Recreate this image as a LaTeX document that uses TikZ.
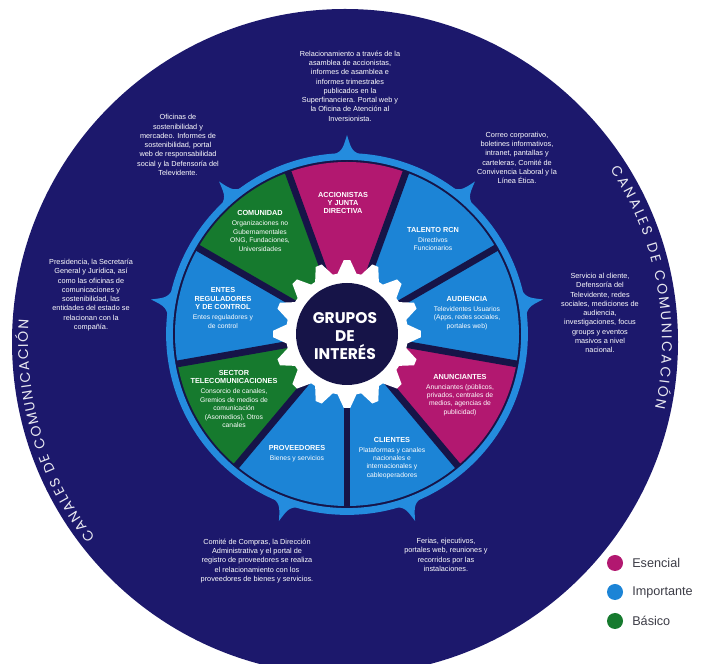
\documentclass[tikz,border=0pt]{standalone}
\usepackage{fontspec}
\setmainfont{Liberation Sans}
\newfontfamily\geofont{Poppins}
\usetikzlibrary{decorations.text}

\definecolor{fondo}{RGB}{28,24,108}
\definecolor{oscuro}{RGB}{22,20,72}
\definecolor{esencial}{RGB}{178,24,112}
\definecolor{importante}{RGB}{28,132,214}
\definecolor{basico}{RGB}{22,122,46}
\definecolor{aro}{RGB}{36,140,222}
\definecolor{gris}{RGB}{60,60,70}

\tikzset{
  canal/.style={text=white, align=center, inner sep=0pt, font=\fontsize{5.2}{6.6}\selectfont},
  grupo/.style={text=white, align=center, inner sep=0pt, font=\fontsize{4.8}{6}\selectfont},
  divisor/.style={draw=oscuro, line width=0.17cm},
  punto/.style={circle, minimum size=0.4cm, inner sep=0pt},
  leyenda/.style={anchor=west, text=gris, inner sep=0pt, font=\fontsize{9}{9}\selectfont},
  rotulo/.style={decorate, decoration={text along path, text align={fit to path},
    text={|\geofont\fontsize{10}{10}\selectfont\color{white!90!fondo}|CANALES DE COMUNICACIÓN}}},
}
\newcommand{\titulo}[1]{{\fontsize{5.2}{6}\selectfont\bfseries #1}}

\begin{document}
\begin{tikzpicture}[x=0.025cm, y=0.025cm]
\useasboundingbox (0,0) rectangle (704,664);
\clip (0,0) rectangle (704,664);

% circulo exterior
\fill[fondo] (345,322) circle[radius=333];
\path[rotulo, shift={(345,322)}] (33:317) arc[start angle=33, end angle=-12, radius=317];
\path[rotulo, shift={(345,322)}] (218:317) arc[start angle=218, end angle=176, radius=317];

% rueda
\begin{scope}[shift={(347,330)}]
  \fill[oscuro] (0,0) circle[radius=175];
  \foreach \a/\c in {90/esencial, 50/importante, 10/importante, -30/esencial,
      -70/importante, -110/importante, -150/basico, 170/importante, 130/basico}
    \fill[\c] (0,0) -- (\a-20:172) arc[start angle=\a-20, end angle=\a+20, radius=172] -- cycle;
  \foreach \a in {70,30,-10,-50,-90,-130,-170,150,110}
    \draw[divisor] (0,0) -- (\a:173);
  \draw[aro, line width=0.17cm] (0,0) circle[radius=177.5];
  \foreach \a in {90,50,10,-70,-110,170,130}
    \fill[aro] (\a-6:178) .. controls (\a-1.5:183) .. (\a:199)
      .. controls (\a+1.5:183) .. (\a+6:178) -- cycle;
  % engranaje
  \fill[white] (-2.5:74) \foreach \i in {0,...,15} {
      -- (\i*22.5+2.5:74) -- (\i*22.5+9:61) -- (\i*22.5+13.5:61) -- (\i*22.5+20:74) } -- cycle;
  \fill[oscuro] (0,0) circle[radius=51];
\end{scope}

\node[text=white, align=center, inner sep=0pt, font=\geofont\bfseries\fontsize{11}{12.6}\selectfont]
  (centro) at (345,328) {GRUPOS\\DE\\INTERÉS};

% grupos de interes
\node[grupo] (accionistas) at (343,461) {\titulo{ACCIONISTAS}\\\titulo{Y JUNTA}\\\titulo{DIRECTIVA}};
\node[grupo] (talento) at (433,425) {\titulo{TALENTO RCN}\\[1pt]Directivos\\Funcionarios};
\node[grupo] (audiencia) at (467,351) {\titulo{AUDIENCIA}\\[1pt]Televidentes Usuarios\\(Apps, redes sociales,\\portales web)};
\node[grupo] (anunciantes) at (460,269) {\titulo{ANUNCIANTES}\\[1pt]Anunciantes (públicos,\\privados, centrales de\\medios, agencias de\\publicidad)};
\node[grupo] (clientes) at (392,206) {\titulo{CLIENTES}\\[1pt]Plataformas y canales\\nacionales e\\internacionales y\\cableoperadores};
\node[grupo] (proveedores) at (297,210) {\titulo{PROVEEDORES}\\[1pt]Bienes y servicios};
\node[grupo] (sector) at (234,265) {\titulo{SECTOR}\\\titulo{TELECOMUNICACIONES}\\[1pt]Consorcio de canales,\\Gremios de medios de\\comunicación\\(Asomedios), Otros\\canales};
\node[grupo] (entes) at (223,356) {\titulo{ENTES}\\\titulo{REGULADORES}\\\titulo{Y DE CONTROL}\\[1pt]Entes reguladores y\\de control};
\node[grupo] (comunidad) at (260,433) {\titulo{COMUNIDAD}\\[1pt]Organizaciones no\\Gubernamentales\\ONG, Fundaciones,\\Universidades};

% canales
\node[canal] (cArriba) at (350,578) {Relacionamiento a través de la\\asamblea de accionistas,\\informes de asamblea e\\informes trimestrales\\publicados en la\\Superfinanciera. Portal web y\\la Oficina de Atención al\\Inversionista.};
\node[canal] (cArribaIzq) at (178,519) {Oficinas de\\sostenibilidad y\\mercadeo. Informes de\\sostenibilidad, portal\\web de responsabilidad\\social y la Defensoría del\\Televidente.};
\node[canal] (cArribaDer) at (517,506) {Correo corporativo,\\boletines informativos,\\intranet, pantallas y\\carteleras, Comité de\\Convivencia Laboral y la\\Línea Ética.};
\node[canal] (cIzq) at (91,369) {Presidencia, la Secretaría\\General y Jurídica, así\\como las oficinas de\\comunicaciones y\\sostenibilidad, las\\entidades del estado se\\relacionan con la\\compañía.};
\node[canal] (cDer) at (600,351) {Servicio al cliente,\\Defensoría del\\Televidente, redes\\sociales, mediciones de\\audiencia,\\investigaciones, focus\\groups y eventos\\masivos a nivel\\nacional.};
\node[canal] (cAbajoIzq) at (257,103) {Comité de Compras, la Dirección\\Administrativa y el portal de\\registro de proveedores se realiza\\el relacionamiento con los\\proveedores de bienes y servicios.};
\node[canal] (cAbajoDer) at (446,109) {Ferias, ejecutivos,\\portales web, reuniones y\\recorridos por las\\instalaciones.};

% leyenda
\node[punto, fill=esencial] (pEsencial) at (615,101) {};
\node[leyenda] (lEsencial) at (632,101) {Esencial};
\node[punto, fill=importante] (pImportante) at (615,72) {};
\node[leyenda] (lImportante) at (632,72) {Importante};
\node[punto, fill=basico] (pBasico) at (615,43) {};
\node[leyenda] (lBasico) at (632,43) {Básico};
\end{tikzpicture}
\end{document}
